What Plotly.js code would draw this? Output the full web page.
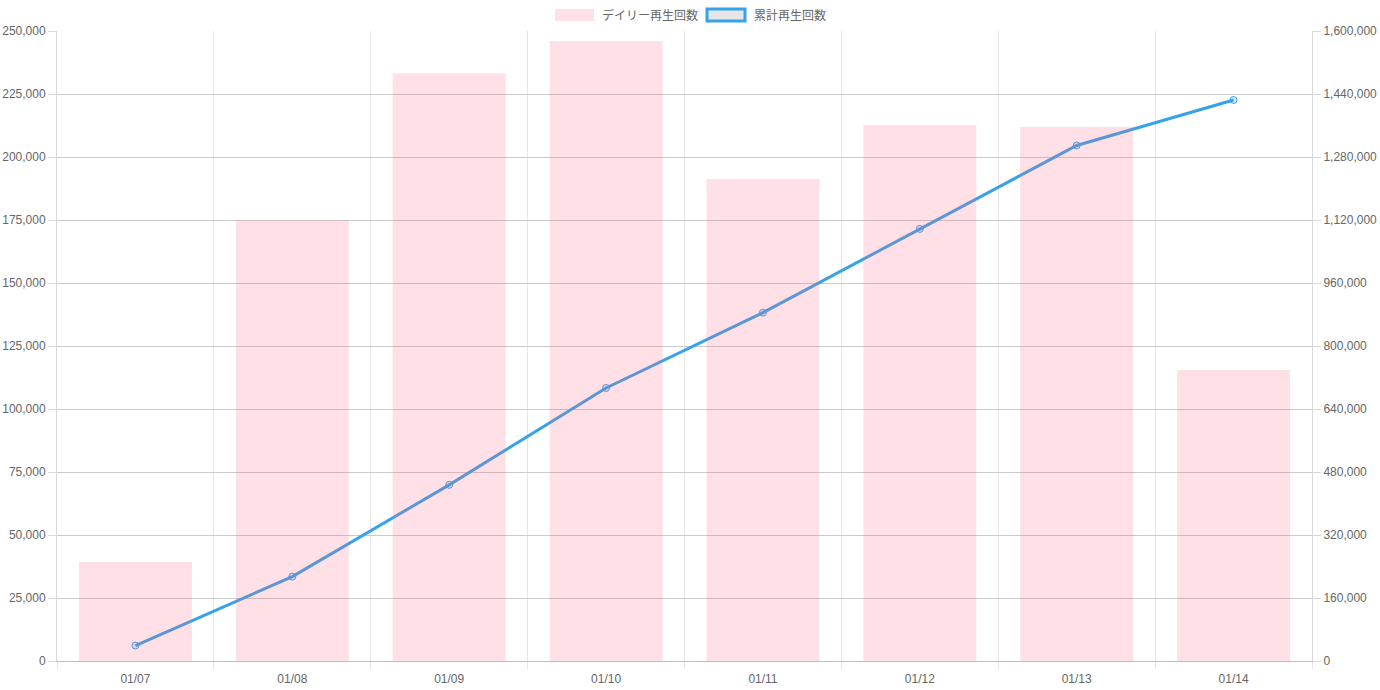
<!DOCTYPE html>
<html>
<head>
<meta charset="utf-8">
<script src="https://cdn.plot.ly/plotly-3.0.1.min.js"></script>
<style>html,body{margin:0;padding:0;background:#fff;}#chart{width:1380px;height:690px;}</style>
</head>
<body>
<div id="chart"></div>
<script>
const categories = ["01/07", "01/08", "01/09", "01/10", "01/11", "01/12", "01/13", "01/14"];
const dailyPlays = [39300, 174900, 233200, 246000, 191300, 212700, 211900, 115500];
const cumulativePlays = [39300, 214200, 447400, 693400, 884700, 1097400, 1309300, 1424800];
const seriesNames = ["デイリー再生回数", "累計再生回数"];

const FONT = "Liberation Sans, Arial, Noto Sans CJK JP, sans-serif";
const TXT = "#666666";

const lineTrace = {
  type: "scatter", mode: "lines+markers",
  x: categories, y: cumulativePlays, name: seriesNames[1],
  xaxis: "x", yaxis: "y",
  line: {color: "#36a2eb", width: 3},
  marker: {size: 7, color: "rgba(54,162,235,0.2)", line: {color: "#36a2eb", width: 1}},
  showlegend: false, hoverinfo: "x+y"
};
const barTrace = {
  type: "bar", x: categories, y: dailyPlays, name: seriesNames[0],
  xaxis: "x", yaxis: "y2",
  marker: {color: "rgba(255,99,132,0.2)"},
  showlegend: false, hoverinfo: "x+y"
};

const L = 57, R = 1312, T = 31, B = 661;
const W = R - L, H = B - T;
const px = v => (v - L) / W;
const py = v => (B - v) / H;

const layout = {
  width: 1380, height: 690,
  margin: {l: L, r: 1380 - R, t: T, b: 690 - B},
  paper_bgcolor: "#fff", plot_bgcolor: "#fff",
  font: {family: FONT, size: 12, color: TXT},
  bargap: 0.28,
  showlegend: false,
  xaxis: {
    type: "category", tickson: "boundaries",
    showgrid: true, gridcolor: "#e6e6e6", gridwidth: 1,
    ticks: "outside", ticklen: 7, tickcolor: "#e6e6e6",
    ticklabelstandoff: 7,
    showline: true, linecolor: "#bdbdbd", linewidth: 1,
    tickfont: {family: FONT, size: 12, color: TXT},
    fixedrange: true
  },
  yaxis: {
    side: "right", range: [0, 1600000], dtick: 160000, tick0: 0,
    tickformat: ",", showgrid: false, zeroline: false,
    ticks: "outside", ticklen: 8, tickcolor: "#d9d9d9",
    showline: true, linecolor: "#d9d9d9", linewidth: 1,
    tickfont: {family: FONT, size: 12, color: TXT},
    fixedrange: true
  },
  yaxis2: {
    side: "left", overlaying: "y", range: [0, 250000], dtick: 25000, tick0: 0,
    tickformat: ",", showgrid: true, gridcolor: "#cbcbcb", gridwidth: 1, zeroline: false,
    ticks: "outside", ticklen: 8, tickcolor: "#d9d9d9",
    showline: true, linecolor: "#d9d9d9", linewidth: 1,
    tickfont: {family: FONT, size: 12, color: TXT},
    fixedrange: true
  },
  shapes: [
    {type: "rect", xref: "paper", yref: "paper", x0: px(555), x1: px(594), y0: py(21), y1: py(9),
     fillcolor: "rgba(255,99,132,0.2)", line: {width: 0}},
    {type: "rect", xref: "paper", yref: "paper", x0: px(707), x1: px(745), y0: py(21), y1: py(9),
     fillcolor: "#e6e6e6", line: {color: "#36a2eb", width: 3}}
  ],
  annotations: [
    {xref: "paper", yref: "paper", x: px(600), y: py(15), xanchor: "left", yanchor: "middle",
     text: seriesNames[0], showarrow: false, font: {family: FONT, size: 12, color: TXT}},
    {xref: "paper", yref: "paper", x: px(752), y: py(15), xanchor: "left", yanchor: "middle",
     text: seriesNames[1], showarrow: false, font: {family: FONT, size: 12, color: TXT}}
  ]
};

Plotly.newPlot("chart", [lineTrace, barTrace], layout, {displayModeBar: false, staticPlot: true});
</script>
</body>
</html>
